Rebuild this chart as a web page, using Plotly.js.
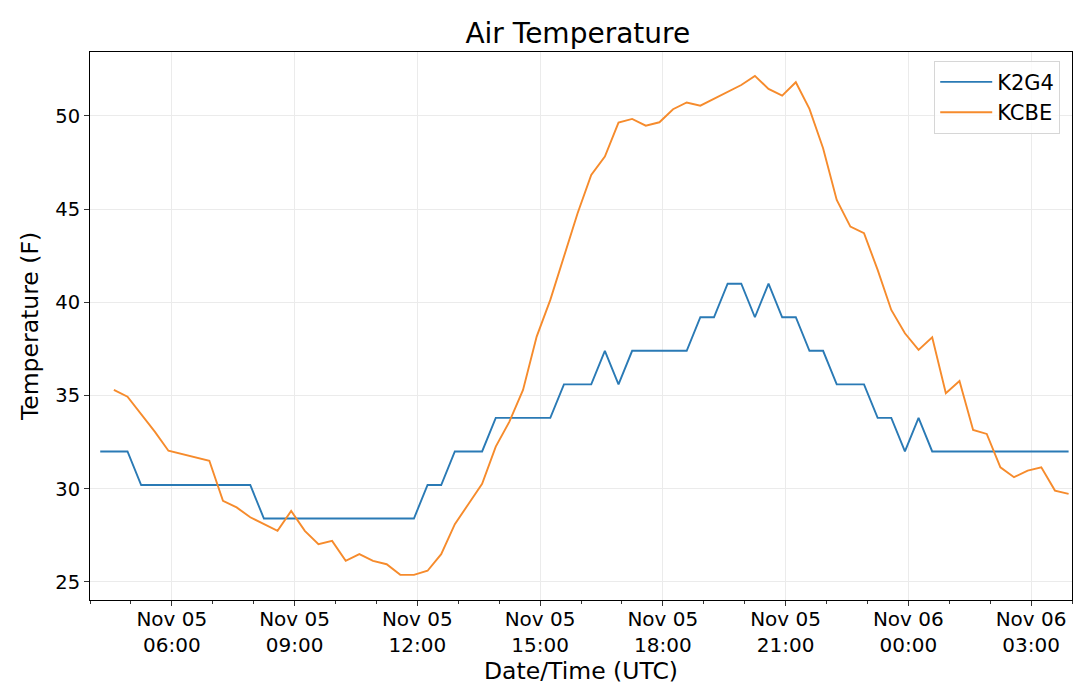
<!DOCTYPE html>
<html>
<head>
<meta charset="utf-8">
<script src="https://cdn.plot.ly/plotly-3.0.1.min.js"></script>
<style>
  body { margin: 0; background: #fff; }
  #chart { width: 1080px; height: 690px; }
</style>
</head>
<body>
<div id="chart"></div>
<script>
// K2G4 reports every 20 min (:15, :35, :55)
var k2g4Times = [
  '2019-11-05 04:15', '2019-11-05 04:35', '2019-11-05 04:55', '2019-11-05 05:15', '2019-11-05 05:35', '2019-11-05 05:55',
  '2019-11-05 06:15', '2019-11-05 06:35', '2019-11-05 06:55', '2019-11-05 07:15', '2019-11-05 07:35', '2019-11-05 07:55',
  '2019-11-05 08:15', '2019-11-05 08:35', '2019-11-05 08:55', '2019-11-05 09:15', '2019-11-05 09:35', '2019-11-05 09:55',
  '2019-11-05 10:15', '2019-11-05 10:35', '2019-11-05 10:55', '2019-11-05 11:15', '2019-11-05 11:35', '2019-11-05 11:55',
  '2019-11-05 12:15', '2019-11-05 12:35', '2019-11-05 12:55', '2019-11-05 13:15', '2019-11-05 13:35', '2019-11-05 13:55',
  '2019-11-05 14:15', '2019-11-05 14:35', '2019-11-05 14:55', '2019-11-05 15:15', '2019-11-05 15:35', '2019-11-05 15:55',
  '2019-11-05 16:15', '2019-11-05 16:35', '2019-11-05 16:55', '2019-11-05 17:15', '2019-11-05 17:35', '2019-11-05 17:55',
  '2019-11-05 18:15', '2019-11-05 18:35', '2019-11-05 18:55', '2019-11-05 19:15', '2019-11-05 19:35', '2019-11-05 19:55',
  '2019-11-05 20:15', '2019-11-05 20:35', '2019-11-05 20:55', '2019-11-05 21:15', '2019-11-05 21:35', '2019-11-05 21:55',
  '2019-11-05 22:15', '2019-11-05 22:35', '2019-11-05 22:55', '2019-11-05 23:15', '2019-11-05 23:35', '2019-11-05 23:55',
  '2019-11-06 00:15', '2019-11-06 00:35', '2019-11-06 00:55', '2019-11-06 01:15', '2019-11-06 01:35', '2019-11-06 01:55',
  '2019-11-06 02:15', '2019-11-06 02:35', '2019-11-06 02:55', '2019-11-06 03:15', '2019-11-06 03:35', '2019-11-06 03:55'
];
var k2g4Temps = [
  32, 32, 32, 30.2, 30.2, 30.2,
  30.2, 30.2, 30.2, 30.2, 30.2, 30.2,
  28.4, 28.4, 28.4, 28.4, 28.4, 28.4,
  28.4, 28.4, 28.4, 28.4, 28.4, 28.4,
  30.2, 30.2, 32, 32, 32, 33.8,
  33.8, 33.8, 33.8, 33.8, 35.6, 35.6,
  35.6, 37.4, 35.6, 37.4, 37.4, 37.4,
  37.4, 37.4, 39.2, 39.2, 41, 41,
  39.2, 41, 39.2, 39.2, 37.4, 37.4,
  35.6, 35.6, 35.6, 33.8, 33.8, 32,
  33.8, 32, 32, 32, 32, 32,
  32, 32, 32, 32, 32, 32
];

var kcbeTimes = [
  '2019-11-05 04:35', '2019-11-05 04:55', '2019-11-05 05:35', '2019-11-05 05:55', '2019-11-05 06:55',
  '2019-11-05 07:15', '2019-11-05 07:35', '2019-11-05 07:55', '2019-11-05 08:35', '2019-11-05 08:55',
  '2019-11-05 09:15', '2019-11-05 09:35', '2019-11-05 09:55', '2019-11-05 10:15', '2019-11-05 10:35',
  '2019-11-05 10:55', '2019-11-05 11:15', '2019-11-05 11:35', '2019-11-05 11:55', '2019-11-05 12:15',
  '2019-11-05 12:35', '2019-11-05 12:55', '2019-11-05 13:15', '2019-11-05 13:35', '2019-11-05 13:55',
  '2019-11-05 14:15', '2019-11-05 14:35', '2019-11-05 14:55', '2019-11-05 15:15', '2019-11-05 15:35',
  '2019-11-05 15:55', '2019-11-05 16:15', '2019-11-05 16:35', '2019-11-05 16:55', '2019-11-05 17:15',
  '2019-11-05 17:35', '2019-11-05 17:55', '2019-11-05 18:15', '2019-11-05 18:35', '2019-11-05 18:55',
  '2019-11-05 19:15', '2019-11-05 19:35', '2019-11-05 19:55', '2019-11-05 20:15', '2019-11-05 20:35',
  '2019-11-05 20:55', '2019-11-05 21:15', '2019-11-05 21:35', '2019-11-05 21:55', '2019-11-05 22:15',
  '2019-11-05 22:35', '2019-11-05 22:55', '2019-11-05 23:15', '2019-11-05 23:35', '2019-11-05 23:55',
  '2019-11-06 00:15', '2019-11-06 00:35', '2019-11-06 00:55', '2019-11-06 01:15', '2019-11-06 01:35',
  '2019-11-06 01:55', '2019-11-06 02:15', '2019-11-06 02:35', '2019-11-06 02:55', '2019-11-06 03:15',
  '2019-11-06 03:35', '2019-11-06 03:55'
];
var kcbeTemps = [
  35.3, 34.94, 33.06, 32.04, 31.5,
  29.35, 29.0, 28.47, 27.74, 28.81,
  27.74, 27.02, 27.2, 26.13, 26.49,
  26.13, 25.95, 25.38, 25.38, 25.6,
  26.49, 28.1, 29.18, 30.26, 32.26,
  33.6, 35.3, 38.16, 40.13, 42.45,
  44.78, 46.84, 47.82, 49.64, 49.84,
  49.48, 49.66, 50.36, 50.72, 50.55,
  50.92, 51.3, 51.66, 52.15, 51.45,
  51.09, 51.81, 50.38, 48.27, 45.49,
  44.06, 43.71, 41.74, 39.59, 38.34,
  37.45, 38.13, 35.12, 35.78, 33.15,
  32.94, 31.15, 30.62, 30.97, 31.15,
  29.9, 29.72
];

var yTicks = [25, 30, 35, 40, 45, 50];

var FONT = 'DejaVu Sans, sans-serif';

var data = [
  { x: k2g4Times, y: k2g4Temps, name: 'K2G4', mode: 'lines', type: 'scatter',
    line: { color: '#2a7ab5', width: 1.9 } },
  { x: kcbeTimes, y: kcbeTemps, name: 'KCBE', mode: 'lines', type: 'scatter',
    line: { color: '#f68b2c', width: 1.9 } }
];

var layout = {
  width: 1080,
  height: 690,
  margin: { l: 90, r: 8, t: 52, b: 90 },
  paper_bgcolor: '#fff',
  plot_bgcolor: '#fff',
  font: { family: FONT, size: 19.5, color: '#000' },
  title: { text: 'Air Temperature', font: { size: 28, color: '#000' }, x: 0.535, xanchor: 'center', y: 0.952, yanchor: 'middle' },
  showlegend: true,
  legend: {
    x: 0.988, xanchor: 'right', y: 0.984, yanchor: 'top',
    bgcolor: 'rgba(255,255,255,0.8)', bordercolor: '#d6d6d6', borderwidth: 1,
    font: { size: 21 }, itemwidth: 52
  },
  xaxis: {
    type: 'date',
    range: ['2019-11-05 04:00', '2019-11-06 04:00'],
    tick0: '2019-11-05 00:00',
    dtick: 3 * 3600000,
    tickformat: '%b %d<br>%H:%M',
    ticks: 'outside', ticklen: 5, tickcolor: '#333',
    minor: { dtick: 3600000, ticks: 'outside', ticklen: 3, tickcolor: '#333', showgrid: false },
    ticklabelstandoff: -4,
    showgrid: true, gridcolor: '#ebebeb', gridwidth: 1,
    showline: true, linecolor: '#000', linewidth: 1, mirror: true,
    zeroline: false,
    tickfont: { size: 20 },
    title: { text: 'Date/Time (UTC)', font: { size: 23.5 }, standoff: 0 }
  },
  yaxis: {
    range: [24.03, 53.43],
    tickvals: yTicks,
    ticks: 'outside', ticklen: 5, tickcolor: '#333',
    showgrid: true, gridcolor: '#ebebeb', gridwidth: 1,
    showline: true, linecolor: '#000', linewidth: 1, mirror: true,
    zeroline: false,
    tickfont: { size: 19.5 },
    title: { text: 'Temperature (F)', font: { size: 23.5 }, standoff: 10 }
  }
};

Plotly.newPlot('chart', data, layout, { displayModeBar: false, staticPlot: true });
</script>
</body>
</html>
